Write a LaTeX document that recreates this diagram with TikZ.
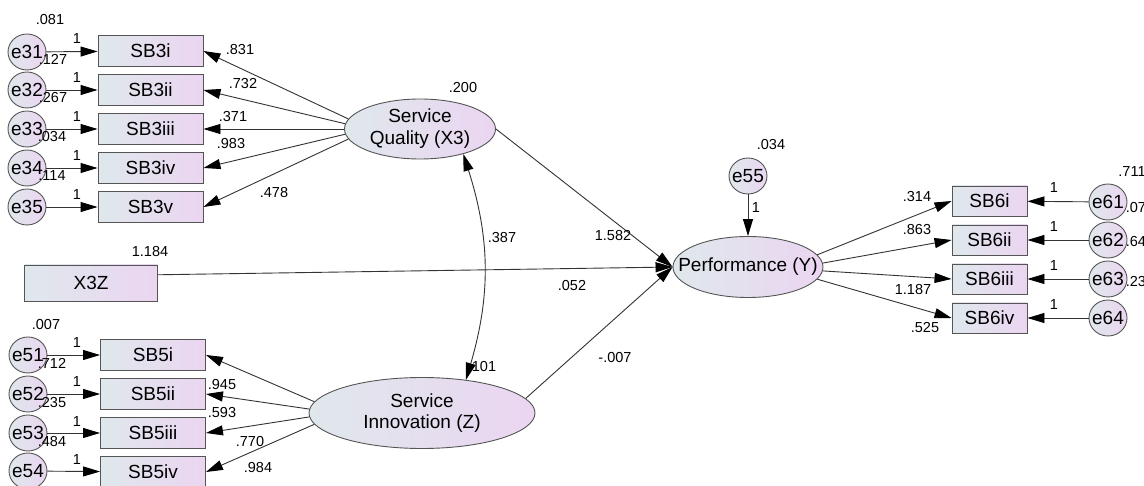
\documentclass[tikz,border=0pt]{standalone}
\usepackage{fontspec}
\setmainfont{Liberation Sans}
\usetikzlibrary{arrows.meta,shapes.geometric}

\definecolor{fillL}{HTML}{DFE8EC}
\definecolor{fillR}{HTML}{EBD5F1}
\definecolor{edge}{HTML}{555555}
\definecolor{wire}{HTML}{333333}

\tikzset{
  big/.style={font=\fontsize{19}{22}\selectfont},
  num/.style={font=\fontsize{14.5}{16}\selectfont, inner sep=0pt},
  obs/.style={rectangle, draw=edge, line width=0.9pt, left color=fillL, right color=fillR,
    minimum width=105, minimum height=31, inner sep=0pt, big},
  obs6/.style={obs, minimum width=75, minimum height=30},
  err/.style={ellipse, draw=edge, line width=0.9pt, left color=fillL, right color=fillR,
    minimum width=38, minimum height=36, inner sep=0pt},
  lat/.style={ellipse, draw=edge, line width=0.9pt, left color=fillL, right color=fillR,
    inner sep=0pt},
  intext/.style={big, align=center, inner sep=0pt},
  link/.style={draw=wire, line width=0.9pt, -{Triangle[length=17pt,width=10pt,black]}},
  covlink/.style={draw=wire, line width=0.9pt,
    {Triangle[length=17pt,width=10pt,black]}-{Triangle[length=17pt,width=10pt,black]}},
}

\begin{document}
\begin{tikzpicture}[x=1pt, y=-1pt]
\useasboundingbox (0,0) rectangle (1144,486);
\clip (0,0) rectangle (1144,486);
\fill[white] (0,0) rectangle (1144,486);

% ---------- indicators of Service Quality ----------
\node[obs] (b3i)   at (150.5,51)  {SB3i};
\node[obs] (b3ii)  at (150.5,90)  {SB3ii};
\node[obs] (b3iii) at (150.5,129) {SB3iii};
\node[obs] (b3iv)  at (150.5,168) {SB3iv};
\node[obs] (b3v)   at (150.5,207) {SB3v};

\node[err, label={[intext]center:e31}] (e31) at (27,52)  {};
\node[err, label={[intext]center:e32}] (e32) at (27,90)  {};
\node[err, label={[intext]center:e33}] (e33) at (27,129) {};
\node[err, label={[intext]center:e34}] (e34) at (27,168) {};
\node[err, label={[intext]center:e35}] (e35) at (27,207) {};

% ---------- interaction term ----------
\node[obs, minimum width=133, minimum height=36] (x3z) at (91,283) {X3Z};

% ---------- indicators of Service Innovation ----------
\node[obs] (b5i)   at (153,355) {SB5i};
\node[obs] (b5ii)  at (153,394) {SB5ii};
\node[obs] (b5iii) at (153,433) {SB5iii};
\node[obs] (b5iv)  at (153,472) {SB5iv};

\node[err, label={[intext]center:e51}] (e51) at (28,355) {};
\node[err, label={[intext]center:e52}] (e52) at (28,394) {};
\node[err, label={[intext]center:e53}] (e53) at (28,433) {};
\node[err, label={[intext]center:e54}] (e54) at (28,471) {};

% ---------- latent variables ----------
\node[lat, minimum width=151, minimum height=60,
      label={[intext]center:Service\\Quality (X3)}] (sq) at (420,129) {};
\node[lat, minimum width=226, minimum height=71,
      label={[intext, font=\fontsize{19}{21}\selectfont]center:Service\\Innovation (Z)}] (si) at (422,413) {};
\node[lat, minimum width=150, minimum height=61,
      label={[intext]center:Performance (Y)}] (perf) at (748,267) {};
\node[err, label={[intext]center:e55}] (e55) at (748,176) {};

% ---------- indicators of Performance ----------
\node[obs6] (b6i)   at (989.5,201) {SB6i};
\node[obs6] (b6ii)  at (989.5,240) {SB6ii};
\node[obs6] (b6iii) at (989.5,279) {SB6iii};
\node[obs6] (b6iv)  at (989.5,318) {SB6iv};

\node[err, label={[intext]center:e61}] (e61) at (1108,202) {};
\node[err, label={[intext]center:e62}] (e62) at (1108,240) {};
\node[err, label={[intext]center:e63}] (e63) at (1108,279) {};
\node[err, label={[intext]center:e64}] (e64) at (1108,318) {};

% ---------- paths ----------
\foreach \a/\b in {e31/b3i, e32/b3ii, e33/b3iii, e34/b3iv, e35/b3v,
                   e51/b5i, e52/b5ii, e53/b5iii, e54/b5iv,
                   e61/b6i, e62/b6ii, e63/b6iii, e64/b6iv, e55/perf}
  \draw[link] (\a) -- (\b);

\draw[link] (sq.172) -- (b3i.east);
\draw[link] (sq.176) -- (b3ii.east);
\draw[link] (sq.180) -- (b3iii.east);
\draw[link] (sq.184) -- (b3iv.east);
\draw[link] (sq.188) -- (b3v.east);

\draw[link] (si.174) -- (b5i.east);
\draw[link] (si.178) -- (b5ii.east);
\draw[link] (si.182) -- (b5iii.east);
\draw[link] (si.186) -- (b5iv.east);

\draw[link] (perf.10) -- (b6i.west);
\draw[link] (perf.3)  -- (b6ii.west);
\draw[link] (perf.-3) -- (b6iii.west);
\draw[link] (perf.-10) -- (b6iv.west);

\draw[link] (sq.east) -- (perf.west);
\draw[link] (x3z.7) -- (perf.west);
\draw[link] (si.8) -- (perf.west);

% covariance between the exogenous latents
\draw[covlink] (sq.-30) to[bend left=17] (si.37);

% ---------- estimates ----------
\node[num] (v31) at (50,20)  {.081};
\node[num] (v32) at (53,59)  {.127};
\node[num] (v33) at (53,98)  {.267};
\node[num] (v34) at (52,137) {.034};
\node[num] (v35) at (52,176) {.114};
\node[num] (w31) at (77,39)  {1};
\node[num] (w32) at (77,78)  {1};
\node[num] (w33) at (77,117) {1};
\node[num] (w34) at (77,156) {1};
\node[num] (w35) at (77,195) {1};

\node[num] (l3i)   at (240,50)  {.831};
\node[num] (l3ii)  at (243,84)  {.732};
\node[num] (l3iii) at (233,117) {.371};
\node[num] (l3iv)  at (231,144) {.983};
\node[num] (l3v)   at (274,193) {.478};
\node[num] (vsq)   at (463,88)  {.200};

\node[num] (vx3z) at (150,252) {1.184};
\node[num] (cov)  at (502,238) {.387};
\node[num] (gx3z) at (572,286) {.052};
\node[num] (gsq)  at (613,236) {1.582};
\node[num] (gsi)  at (615,358) {-.007};
\node[num] (vsi)  at (482,367) {.101};

\node[num] (v51) at (46,325) {.007};
\node[num] (v52) at (52,363) {.712};
\node[num] (v53) at (52,403) {.235};
\node[num] (v54) at (52,442) {.484};
\node[num] (w51) at (77,343) {1};
\node[num] (w52) at (77,382) {1};
\node[num] (w53) at (77,422) {1};
\node[num] (w54) at (77,460) {1};

\node[num] (l5ii)  at (222,385) {.945};
\node[num] (l5iii) at (222,413) {.593};
\node[num] (l5iv)  at (250,442) {.770};
\node[num] (l5i)   at (258,468) {.984};

\node[num] (v55) at (771,145) {.034};
\node[num] (w55) at (756,208) {1};

\node[num] (l6i)   at (917,197) {.314};
\node[num] (l6ii)  at (917,230) {.863};
\node[num] (l6iii) at (913,290) {1.187};
\node[num] (l6iv)  at (925,328) {.525};

\node[num] (w61) at (1054,188) {1};
\node[num] (w62) at (1054,227) {1};
\node[num] (w63) at (1054,266) {1};
\node[num] (w64) at (1054,305) {1};

\node[num] (v61) at (1132,172) {.711};
\node[num] (v62) at (1140,208) {.075};
\node[num] (v63) at (1140,242) {.645};
\node[num] (v64) at (1140,282) {.232};
\end{tikzpicture}
\end{document}
